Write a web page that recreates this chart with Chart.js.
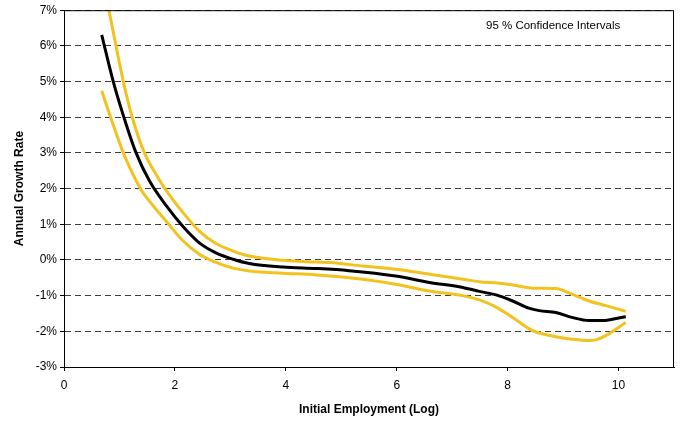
<!DOCTYPE html>
<html>
<head>
<meta charset="utf-8">
<script src="https://cdn.jsdelivr.net/npm/chart.js@4"></script>
<style>
  html, body { margin: 0; padding: 0; background: #fff; }
  #wrap { width: 689px; height: 423px; position: relative; }
</style>
</head>
<body>
<div id="wrap"><canvas id="growthChart"></canvas></div>
<script>
// Values (x = log of initial employment, y = % per year)
const estimateX = [0.68, 0.88, 1.08, 1.30, 1.54, 1.84, 2.15, 2.44, 2.74, 3.05, 3.34, 3.95, 4.55, 5.14, 5.98, 6.59, 7.19, 7.49, 7.79, 8.09, 8.38, 8.57, 8.87, 9.16, 9.47, 9.71, 9.89, 10.13];
const estimateY = [6.31, 5.05, 4.0, 3.0, 2.22, 1.53, 0.93, 0.48, 0.20, 0.02, -0.10, -0.20, -0.24, -0.30, -0.45, -0.63, -0.77, -0.88, -0.98, -1.15, -1.35, -1.42, -1.47, -1.61, -1.70, -1.70, -1.66, -1.59];

const upperX = [0.81, 1.07, 1.23, 1.45, 1.63, 1.82, 2.15, 2.44, 2.74, 3.05, 3.34, 3.95, 4.55, 4.79, 5.39, 5.98, 6.59, 7.19, 7.49, 7.85, 8.09, 8.45, 8.87, 9.16, 9.47, 9.77, 10.13];
const upperY = [7.0, 5.0, 4.0, 3.0, 2.48, 2.0, 1.32, 0.81, 0.46, 0.25, 0.11, -0.01, -0.06, -0.07, -0.17, -0.26, -0.40, -0.54, -0.61, -0.65, -0.70, -0.79, -0.80, -0.96, -1.15, -1.28, -1.44];

const lowerX = [0.68, 0.84, 1.07, 1.39, 1.54, 1.84, 2.15, 2.44, 2.74, 3.05, 3.34, 3.95, 4.55, 5.39, 5.98, 6.59, 7.19, 7.49, 7.79, 8.09, 8.45, 8.87, 9.16, 9.47, 9.59, 9.77, 10.13];
const lowerY = [4.74, 4.0, 3.0, 1.97, 1.65, 1.09, 0.53, 0.16, -0.07, -0.23, -0.31, -0.37, -0.42, -0.54, -0.68, -0.87, -1.00, -1.12, -1.32, -1.61, -1.98, -2.15, -2.22, -2.26, -2.24, -2.12, -1.75];

const xTicks = [0, 2, 4, 6, 8, 10];
const yTicks = [-3, -2, -1, 0, 1, 2, 3, 4, 5, 6, 7];
const noteText = '95 % Confidence Intervals';

const yellow = '#F2C21E';

function toPoints(xs, ys) {
    return xs.map((x, i) => ({ x: x, y: ys[i] }));
}

// frame round the plot and the note in the top right corner
const framePlugin = {
    id: 'frame',
    afterDraw(chart) {
        const { ctx, chartArea } = chart;
        ctx.save();
        ctx.strokeStyle = '#000';
        ctx.lineWidth = 1;
        ctx.setLineDash([]);
        ctx.strokeRect(chartArea.left + 0.5, chartArea.top + 0.5,
            chartArea.right - chartArea.left - 1, chartArea.bottom - chartArea.top);
        ctx.fillStyle = '#000';
        ctx.font = '11.5px "Liberation Sans", Arial, sans-serif';
        ctx.textAlign = 'center';
        ctx.textBaseline = 'middle';
        ctx.fillText(noteText, chart.scales.x.getPixelForValue(8.82), chart.scales.y.getPixelForValue(6.55));
        ctx.restore();
    }
};

Chart.defaults.font.family = '"Liberation Sans", Arial, sans-serif';
Chart.defaults.font.size = 12;
Chart.defaults.color = '#000';

const ctx = document.getElementById('growthChart').getContext('2d');

const lineStyle = {
    borderWidth: 3,
    pointRadius: 0,
    cubicInterpolationMode: 'monotone',
    fill: false
};

new Chart(ctx, {
    type: 'line',
    data: {
        datasets: [
            Object.assign({ label: 'Upper bound', data: toPoints(upperX, upperY), borderColor: yellow }, lineStyle),
            Object.assign({ label: 'Lower bound', data: toPoints(lowerX, lowerY), borderColor: yellow }, lineStyle),
            Object.assign({ label: 'Estimate', data: toPoints(estimateX, estimateY), borderColor: '#000' }, lineStyle)
        ]
    },
    options: {
        responsive: true,
        maintainAspectRatio: false,
        animation: false,
        layout: {
            padding: { top: 9, right: 15, bottom: 0, left: 0 }
        },
        plugins: {
            legend: { display: false },
            tooltip: { enabled: false }
        },
        scales: {
            x: {
                type: 'linear',
                min: 0,
                max: 11,
                afterFit: function(scale) { scale.height = 56; },
                afterBuildTicks: function(scale) {
                    scale.ticks = xTicks.map(v => ({ value: v }));
                },
                border: { display: true, color: '#000', width: 1 },
                grid: {
                    drawOnChartArea: false,
                    drawTicks: true,
                    tickLength: 4,
                    tickColor: '#000'
                },
                ticks: {
                    padding: 7,
                    maxRotation: 0,
                    font: { size: 12 },
                    callback: v => v
                },
                title: {
                    display: true,
                    text: 'Initial Employment (Log)',
                    font: { size: 12, weight: 'bold' },
                    padding: { top: 6, bottom: 6 }
                }
            },
            y: {
                min: -3,
                max: 7,
                afterFit: function(scale) { scale.width = 64; },
                afterBuildTicks: function(scale) {
                    scale.ticks = yTicks.map(v => ({ value: v }));
                },
                border: { display: true, color: '#000', width: 1, dash: [6, 4] },
                grid: {
                    drawOnChartArea: true,
                    drawTicks: true,
                    tickLength: 4,
                    color: '#3c3c3c',
                    tickColor: '#000',
                    lineWidth: 1
                },
                ticks: {
                    padding: 3,
                    font: { size: 12 },
                    callback: v => v + '%'
                },
                title: {
                    display: true,
                    text: 'Annual Growth Rate',
                    font: { size: 12, weight: 'bold' },
                    padding: { top: 12, bottom: 0 }
                }
            }
        }
    },
    plugins: [framePlugin]
});
</script>
</body>
</html>
